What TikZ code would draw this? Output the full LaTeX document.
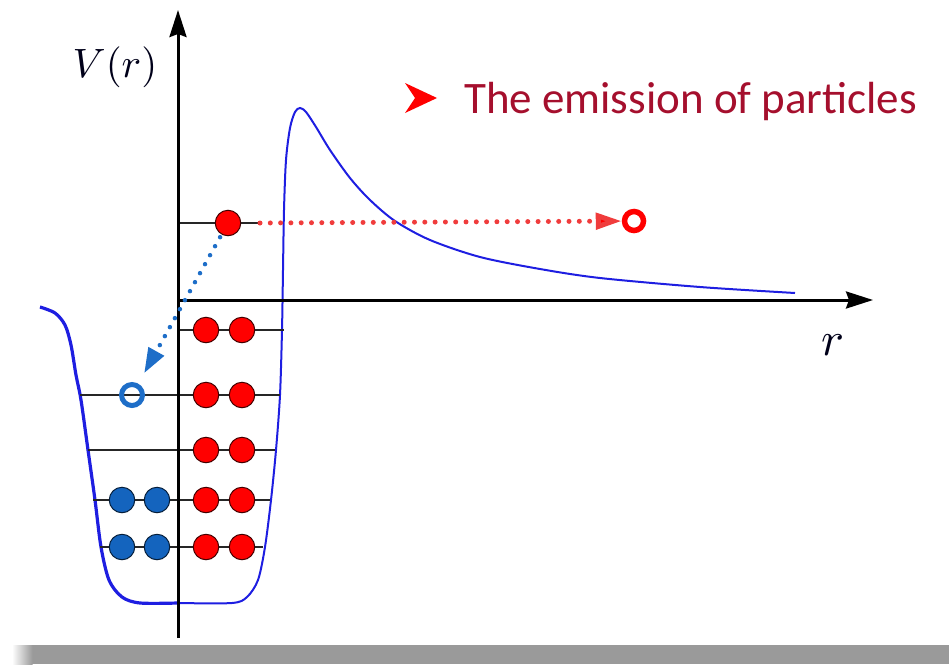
\documentclass[tikz,border=0pt]{standalone}
\usepackage{fontspec}
\newfontfamily\calib{Carlito}
\usetikzlibrary{arrows.meta}
\definecolor{potblue}{RGB}{30,30,225}
\definecolor{pblue}{RGB}{20,100,190}
\definecolor{hblue}{RGB}{30,110,200}
\definecolor{txtred}{RGB}{165,15,45}
\definecolor{bargray}{RGB}{154,154,154}
\definecolor{reddot}{RGB}{240,60,60}
\begin{document}
\begin{tikzpicture}[x=1pt,y=-1pt,
  redp/.style={circle, fill=red, draw=black!75!red, line width=1pt, minimum size=25.5pt, inner sep=0pt},
  bluep/.style={circle, fill=pblue, draw=black!70!pblue, line width=1pt, minimum size=25.5pt, inner sep=0pt},
  bhole/.style={circle, draw=hblue, line width=5pt, minimum size=21pt, inner sep=0pt},
  rhole/.style={circle, draw=red, line width=5.5pt, minimum size=19pt, inner sep=0pt},
  levelline/.style={draw=black!85, line width=1.6pt},
  axisline/.style={draw=black, line width=3pt, -{Stealth[length=27pt,width=17pt,inset=3pt]}},
  potleft/.style={draw=potblue, line width=3.2pt},
  potright/.style={draw=potblue, line width=2pt},
  reddots/.style={draw=reddot, line width=5pt, line cap=round, dash pattern=on 0pt off 10.3pt,
     -{Triangle[length=26pt,width=16pt,fill=red]}},
  bluedots/.style={draw=hblue, line width=4.5pt, line cap=round, dash pattern=on 0pt off 10.3pt,
     -{Triangle[length=25pt,width=17pt,fill=hblue]}, shorten >=12pt, shorten <=3pt},
  lab/.style={font=\normalsize, text=black!90!blue, inner sep=0pt}
]
\useasboundingbox (0,0) rectangle (949,664);

% bottom gray bar
\fill[bargray] (32,645) rectangle (949,664);
\shade[left color=white, right color=bargray] (12,645) rectangle (32.5,664);

% potential curve
\draw[potleft] plot[smooth, tension=0.5] coordinates {(40,307) (55,313) (65,325) (71,345) (76,375) (81,400) (88,450) (95,500) (101,547) (109,580) (122,597) (140,603) (178,603)};
\draw[potright] plot[smooth, tension=0.5] coordinates {(178,603) (232,603) (247,597) (258,580) (265,547) (271,500) (276,450) (280,395) (282,330) (283,270) (284,210) (286,160) (290,128) (295,112) (300,108) (306,112) (316,127) (330,150) (350,178) (370,200) (395,221) (430,240) (480,257) (540,269) (600,278) (700,287) (795,293)};

% energy levels
\coordinate (l0a) at (178,223); \coordinate (l0b) at (260,223);
\coordinate (l1a) at (178,330); \coordinate (l1b) at (284,330);
\coordinate (l2a) at (80,395);  \coordinate (l2b) at (280,395);
\coordinate (l3a) at (88,450);  \coordinate (l3b) at (275,450);
\coordinate (l4a) at (93,500);  \coordinate (l4b) at (270,500);
\coordinate (l5a) at (100,547); \coordinate (l5b) at (263,547);
\foreach \i in {0,...,5} {\draw[levelline] (l\i a) -- (l\i b);}

% axes
\coordinate (yaxb) at (178,638); \coordinate (yaxt) at (178,10);
\coordinate (xaxl) at (178,300); \coordinate (xaxr) at (873,300);
\draw[axisline] (yaxb) -- (yaxt);
\draw[axisline] (xaxl) -- (xaxr);

% particles
\node[redp] (emit) at (228,223) {};
\foreach \row/\y in {1/330,2/395,3/450,4/500,5/547} {
  \node[redp] (ra\row) at (206,\y) {};
  \node[redp] (rb\row) at (242,\y) {};
}
\foreach \row/\y in {4/500,5/547} {
  \node[bluep] (ba\row) at (122,\y) {};
  \node[bluep] (bb\row) at (157,\y) {};
}
\node[bhole] (bh) at (132,395) {};
\node[rhole] (rh) at (634,221) {};

% emission arrows
\draw[reddots] (l0b) -- (rh);
\draw[bluedots] (emit) -- (bh);

% labels
\node[lab, scale=4.1, anchor=base] (vlab) at (115,77) {$V(r)$};
\node[lab, scale=4.8, anchor=base] (rlab) at (833,355) {$r$};

% title with bullet
\fill[red] (405,83) -- (437,98) -- (405,113) -- (415,98) -- cycle;
\node[anchor=base west, font=\calib\fontsize{45}{54}\selectfont, text=txtred, inner sep=0pt] (title) at (464,113) {The emission of particles};
\end{tikzpicture}
\end{document}
